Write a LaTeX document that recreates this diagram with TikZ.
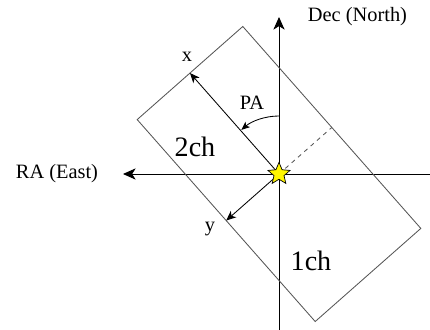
\documentclass[tikz,border=0pt]{standalone}
\usepackage{fontspec}
\setmainfont{Liberation Serif}
\usetikzlibrary{shapes.geometric,arrows.meta}
\definecolor{framegray}{RGB}{85,85,85}
\definecolor{staryellow}{RGB}{255,246,0}

\begin{document}
\begin{tikzpicture}[x=1cm,y=1cm,>={Stealth[length=9pt,width=8pt,inset=2.5pt]},font=\fontsize{14.5}{16}\selectfont]
 \useasboundingbox (-6.975,-3.875) rectangle (3.775,4.35);
 % axes
 \coordinate (north) at (0,3.925);
 \coordinate (south) at (0,-3.9);
 \coordinate (west) at (-3.9,0);
 \coordinate (east) at (3.8,0);
 \draw[->,line width=0.7pt] (east) -- (west);
 \draw[->,line width=0.7pt] (south) -- (north);
 % slit, rotated by PA
 \begin{scope}[rotate=41.4]
   \draw[framegray,line width=0.6pt] (-1.76,-3.365) rectangle (1.76,3.365);
   \coordinate (xend) at (0,3.365);
   \coordinate (yend) at (-1.76,0);
   \coordinate (dend) at (1.76,0);
 \end{scope}
 \coordinate (centre) at (0,0);
 \coordinate (pastart) at (90:1.45);
 \draw[->,line width=0.6pt,>={Stealth[length=7pt,width=6pt,inset=2pt]}] (centre) -- (xend);
 \draw[->,line width=0.6pt,>={Stealth[length=7pt,width=6pt,inset=2pt]}] (centre) -- (yend);
 \draw[dashed,framegray,line width=0.6pt] (centre) -- (dend);
 \draw[->,line width=0.6pt,>={Stealth[length=6pt,width=5pt,inset=1.5pt]}]
   (pastart) arc[start angle=90,end angle=130.5,radius=1.45];
 \node[star,star points=5,star point ratio=2.2,minimum size=0.58cm,inner sep=0pt,
   fill=staryellow,draw,line width=0.5pt] (star) at (centre) {};
 % labels
 \node[anchor=west] (declab) at (0.6,3.925) {Dec (North)};
 \node[anchor=east] (ralab) at (-4.4,0) {RA (East)};
 \node (xlab) at (-2.3,2.925) {x};
 \node (ylab) at (-1.725,-1.38) {y};
 \node (palab) at (-0.675,1.78) {PA};
 \node[font=\fontsize{20}{22}\selectfont] (twoch) at (-2.1,0.68) {2ch};
 \node[font=\fontsize{20}{22}\selectfont] (onech) at (0.8,-2.17) {1ch};
\end{tikzpicture}
\end{document}
